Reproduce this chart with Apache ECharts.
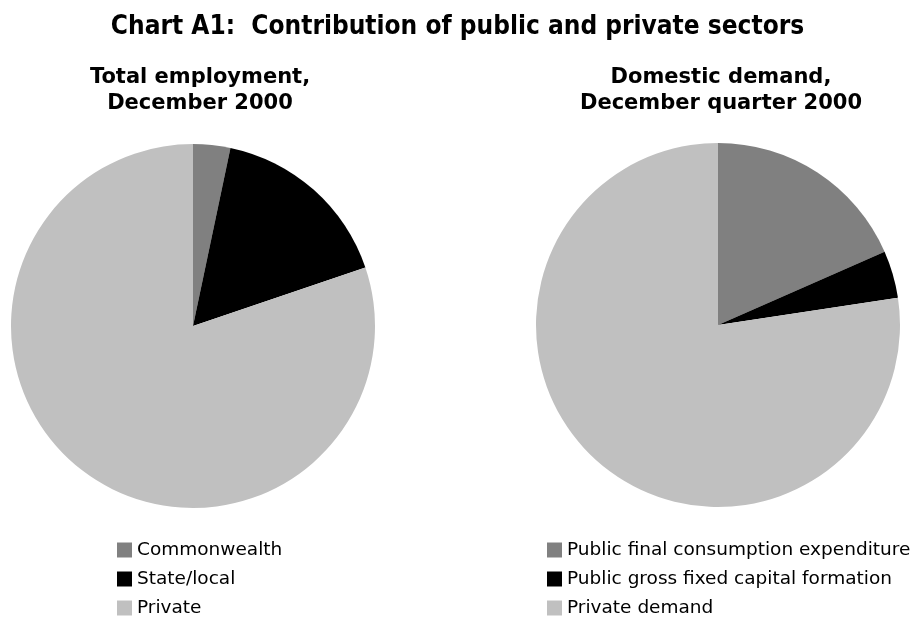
<!DOCTYPE html>
<html><head><meta charset="utf-8">
<script src="https://cdn.jsdelivr.net/npm/echarts@6/dist/echarts.min.js"></script>
<style>html,body{margin:0;padding:0;background:#fff}#c{width:915px;height:617px}</style>
</head><body><div id="c"></div>
<script>
const leftCategories = ['Commonwealth', 'State/local', 'Private'];
const leftValues = [3.3, 16.5, 80.2];
const rightCategories = ['Public final consumption expenditure', 'Public gross fixed capital formation', 'Private demand'];
const rightValues = [18.4, 4.2, 77.4];
const colors = ['#808080', '#000000', '#c0c0c0'];
const FONT = 'DejaVu Sans';

const chart = echarts.init(document.getElementById('c'), null, {renderer: 'canvas'});
const mk = (cats, vals) => cats.map((n, i) => ({name: n, value: vals[i], itemStyle: {color: colors[i]}}));
const legendBase = {orient: 'vertical', top: 540, height: 90, icon: 'rect', itemWidth: 15, itemHeight: 15,
  itemGap: 9, padding: 0, selectedMode: false,
  textStyle: {fontFamily: FONT, fontSize: 18.5, lineHeight: 20, color: '#000'}};
chart.setOption({
  animation: false,
  backgroundColor: '#fff',
  title: [
    {text: 'Chart A1:  Contribution of public and private sectors', left: 'center', top: 9,
     textStyle: {fontFamily: 'DejaVu Sans Condensed', fontWeight: 'bold', fontSize: 26, color: '#000'}},
    {text: 'Total employment,\nDecember 2000', left: 195, top: 60, textAlign: 'center',
     textStyle: {fontFamily: FONT, fontWeight: 'bold', fontSize: 21, lineHeight: 26, color: '#000'}},
    {text: 'Domestic demand,\nDecember quarter 2000', left: 716, top: 60, textAlign: 'center',
     textStyle: {fontFamily: FONT, fontWeight: 'bold', fontSize: 21, lineHeight: 26, color: '#000'}}
  ],
  legend: [
    Object.assign({data: leftCategories, left: 117}, legendBase),
    Object.assign({data: rightCategories, left: 547}, legendBase)
  ],
  series: [
    {type: 'pie', center: [193, 326], radius: [0, 182], startAngle: 90, clockwise: true,
     label: {show: false}, labelLine: {show: false}, emphasis: {disabled: true}, silent: true,
     itemStyle: {borderWidth: 0}, data: mk(leftCategories, leftValues)},
    {type: 'pie', center: [718, 325], radius: [0, 182], startAngle: 90, clockwise: true,
     label: {show: false}, labelLine: {show: false}, emphasis: {disabled: true}, silent: true,
     itemStyle: {borderWidth: 0}, data: mk(rightCategories, rightValues)}
  ]
});
</script></body></html>
